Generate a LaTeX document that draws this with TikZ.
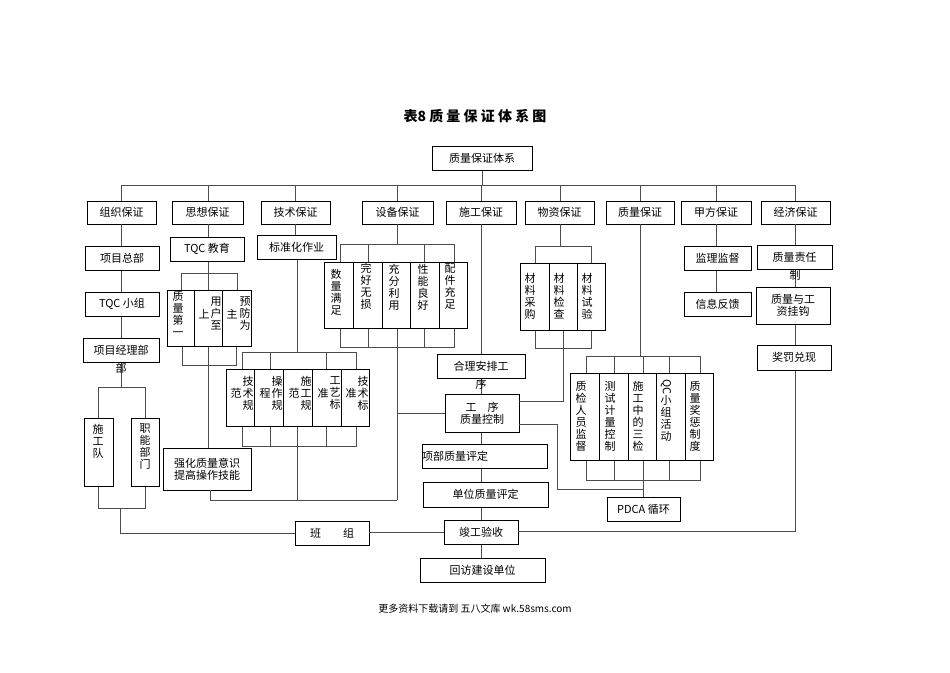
\documentclass[tikz,border=0pt]{standalone}
\usepackage{fontspec}
\setmainfont{Noto Sans CJK SC}
\begin{document}
\begin{tikzpicture}[x=1pt,y=-1pt,
  bx/.style={draw=black,line width=0.9pt,fill=white},
  ln/.style={draw=black!70,line width=0.9pt},
  tx/.style={font=\fontsize{11}{12}\selectfont,inner sep=0pt,align=center},
  vt/.style={font=\fontsize{11}{12}\selectfont,inner sep=0pt,align=center,anchor=north}]
\useasboundingbox (0,0) rectangle (950,672);
\node[font=\fontsize{14}{16}\selectfont\bfseries] (title) at (475,116) {表8 质 量 保 证 体 系 图};
\newcommand\B[6]{\draw[bx] (#2,#3) rectangle node[tx](#1){#6} (#4,#5);}
% bus
\draw[ln] (482,170) -- (482,185);
\draw[ln] (121,185) -- (795,185);
\foreach \x in {121,208,295,397,481,560,640,716,795} \draw[ln] (\x,185) -- (\x,201);
\B{top}{432}{146}{532}{170}{质量保证体系}
\B{a}{87}{201}{156}{224}{组织保证}
\B{b}{172}{201}{243}{224}{思想保证}
\B{c}{261}{201}{330}{224}{技术保证}
\B{d}{362}{201}{433}{224}{设备保证}
\B{e}{446}{201}{516}{224}{施工保证}
\B{f}{525}{201}{594}{224}{物资保证}
\B{g}{606}{201}{674}{224}{质量保证}
\B{h}{681}{201}{751}{224}{甲方保证}
\B{i}{761}{201}{830}{224}{经济保证}
% column 1
\draw[ln] (121,224) -- (121,387);
\draw[ln] (98,418) -- (98,387) -- (145,387) -- (145,418);
\draw[ln] (98,486) -- (98,508) -- (145,508) -- (145,486);
\draw[ln] (120,508) -- (120,533) -- (295,533);
\B{a1}{85}{246}{159}{270}{项目总部}
\B{a2}{85}{292}{159}{316}{TQC 小组}
\B{a3}{83}{338}{159}{362}{项目经理部}
\node[tx] (a3b) at (121,368) {部};
\draw[bx] (84,418) rectangle (113,486);
\node[vt] (a4) at (98,424) {施\\工\\队};
\draw[bx] (131,418) rectangle (159,486);
\node[vt] (a5) at (145,424) {职\\能\\部\\门};
% column 2
\draw[ln] (208,224) -- (208,290);
\draw[ln] (181,290) -- (181,273) -- (237,273) -- (237,290);
\draw[ln] (182,346) -- (182,365) -- (236,365) -- (236,346);
\draw[ln] (208,346) -- (208,448);
\B{b1}{170}{237}{244}{261}{TQC 教育}
\draw[bx] (167,290) rectangle (194,346);
\draw[bx] (194,290) rectangle (222,346);
\draw[bx] (222,290) rectangle (251,346);
\node[vt] (b2) at (178,291) {质\\量\\第\\一};
\node[vt] (b3) at (216,297) {用\\户\\至};
\node[vt] (b3b) at (204,309) {上};
\node[vt] (b4) at (245,297) {预\\防\\为};
\node[vt] (b4b) at (232,309) {主};
\B{b5}{163}{448}{251}{490}{强化质量意识\\提高操作技能}
\draw[ln] (210,490) -- (210,500) -- (397,500);
% column 3
\draw[ln] (295,224) -- (295,235);
\draw[ln] (297,259) -- (297,352);
\B{c1}{257}{235}{336}{259}{标准化作业}
\draw[ln] (242,369) -- (242,352) -- (356,352) -- (356,369);
\foreach \x in {270,326} \draw[ln] (\x,352) -- (\x,369);
\draw[ln] (242,426) -- (242,446) -- (356,446) -- (356,426);
\foreach \x in {270,297,326} \draw[ln] (\x,426) -- (\x,446);
\draw[ln] (297,446) -- (297,500);
\foreach \xa/\xb in {226/254,254/283,283/312,312/341,341/369} \draw[bx] (\xa,369) rectangle (\xb,426);
\node[vt] (c2) at (248,376) {技\\术\\规}; \node[vt] (c2b) at (236,388) {范};
\node[vt] (c3) at (277,376) {操\\作\\规}; \node[vt] (c3b) at (265,388) {程};
\node[vt] (c4) at (306,376) {施\\工\\规}; \node[vt] (c4b) at (294,388) {范};
\node[vt] (c5) at (335,376) {工\\艺\\标}; \node[vt] (c5b) at (323,388) {准};
\node[vt] (c6) at (363,376) {技\\术\\标}; \node[vt] (c6b) at (351,388) {准};
% column 4
\draw[ln] (397,224) -- (397,244);
\draw[ln] (340,262) -- (340,244) -- (454,244) -- (454,262);
\foreach \x in {368,424} \draw[ln] (\x,244) -- (\x,262);
\draw[ln] (340,328) -- (340,347) -- (454,347) -- (454,328);
\foreach \x in {368,397,424} \draw[ln] (\x,328) -- (\x,347);
\draw[ln] (397,347) -- (397,500);
\draw[ln] (397,413) -- (445,413);
\foreach \xa/\xb in {324/353,353/382,382/410,410/439,439/467} \draw[bx] (\xa,262) rectangle (\xb,328);
\node[vt] (d1) at (336,269) {数\\量\\满\\足};
\node[vt] (d2) at (366,263) {完\\好\\无\\损};
\node[vt] (d3) at (394,264) {充\\分\\利\\用};
\node[vt] (d4) at (423,264) {性\\能\\良\\好};
\node[vt] (d5) at (450,263) {配\\件\\充\\足};
% column 5
\draw[ln] (481,224) -- (481,558);
\B{e1}{437}{354}{525}{378}{合理安排工}
\node[tx] (e1b) at (481,384) {序};
\B{e2}{445}{394}{519}{432}{工\quad 序\\质量控制}
\draw[bx] (422,444) rectangle (547,468);
\node[tx,anchor=west] (e3) at (422,456) {项部质量评定};
\B{e4}{423}{482}{548}{507}{单位质量评定}
\B{e5}{444}{520}{518}{544}{竣工验收}
\B{e6}{420}{558}{545}{582}{回访建设单位}
\B{k}{295}{521}{369}{545}{班\qquad 组}
\draw[ln] (369,532) -- (444,532);
\draw[ln] (518,531) -- (795,531) -- (795,370);
% column f
\draw[ln] (560,224) -- (560,246);
\draw[ln] (535,263) -- (535,246) -- (591,246) -- (591,263);
\draw[ln] (535,330) -- (535,348) -- (591,348) -- (591,330);
\draw[ln] (563,330) -- (563,401) -- (519,401);
\foreach \xa/\xb in {520/549,549/577,577/605} \draw[bx] (\xa,263) rectangle (\xb,330);
\node[vt] (f1) at (530,273) {材\\料\\采\\购};
\node[vt] (f2) at (559,273) {材\\料\\检\\查};
\node[vt] (f3) at (587,273) {材\\料\\试\\验};
% column g
\draw[ln] (640,224) -- (640,356);
\draw[ln] (586,373) -- (586,356) -- (700,356) -- (700,373);
\foreach \x in {614,643,669} \draw[ln] (\x,356) -- (\x,373);
\draw[ln] (586,460) -- (586,480) -- (700,480) -- (700,460);
\foreach \x in {614,643,669} \draw[ln] (\x,460) -- (\x,480);
\draw[ln] (643,480) -- (643,497);
\draw[ln] (519,424) -- (557,424) -- (557,489) -- (643,489);
\foreach \xa/\xb in {570/599,599/628,628/656,656/685,685/713} \draw[bx] (\xa,373) rectangle (\xb,460);
\node[vt] (g1) at (581,381) {质\\检\\人\\员\\监\\督};
\node[vt] (g2) at (610,381) {测\\试\\计\\量\\控\\制};
\node[vt] (g3) at (638,381) {施\\工\\中\\的\\三\\检};
\node[vt] (g4) at (666,379) {\rotatebox{-90}{QC}\\小\\组\\活\\动};
\node[vt] (g5) at (695,381) {质\\量\\奖\\惩\\制\\度};
\B{g6}{607}{497}{680}{521}{PDCA 循环}
% column h
\draw[ln] (716,224) -- (716,292);
\B{h1}{684}{246}{751}{270}{监理监督}
\B{h2}{684}{292}{751}{316}{信息反馈}
% column i
\draw[ln] (795,224) -- (795,345);
\B{i1}{757}{245}{832}{269}{质量责任}
\node[tx] (i1b) at (795,275) {制};
\B{i2}{756}{287}{830}{324}{质量与工\\资挂钩}
\B{i3}{757}{345}{831}{370}{奖罚兑现}
\node[font=\fontsize{10}{12}\selectfont] (foot) at (475,609) {更多资料下载请到 五八文库 wk.58sms.com};
\end{tikzpicture}
\end{document}
